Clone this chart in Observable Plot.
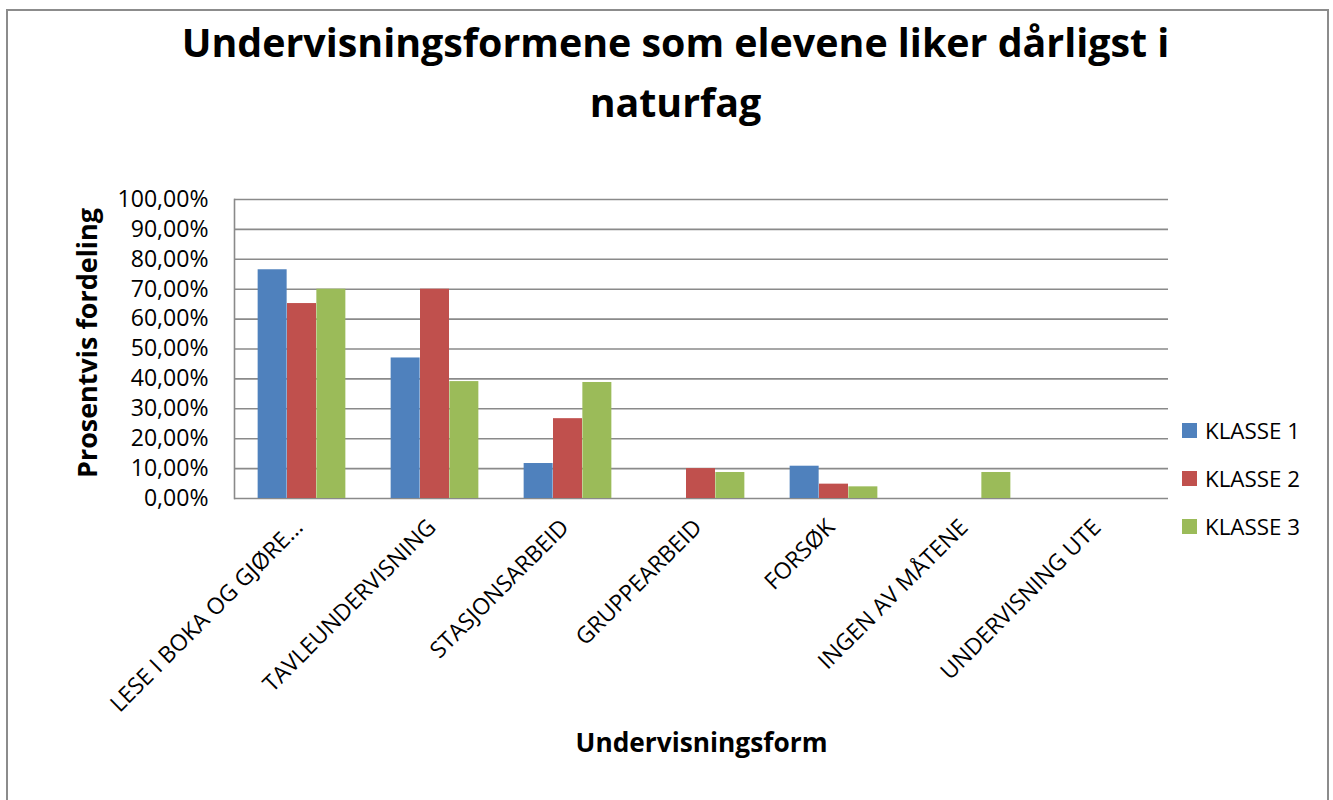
<!DOCTYPE html>
<html>
<head>
<meta charset="utf-8">
<script src="https://cdn.jsdelivr.net/npm/d3@7"></script>
<script src="https://cdn.jsdelivr.net/npm/@observablehq/plot@0.6"></script>
<style>
  html, body { margin: 0; padding: 0; background: #fff; }
  body { width: 1333px; height: 800px; position: relative; overflow: hidden; font-family: "Open Sans", sans-serif; color: #000; }
  #frame { position: absolute; left: 6px; top: 9px; width: 1323px; height: 830px; border: 2px solid #8c8c8c; box-sizing: border-box; }
  #title { position: relative; left: 9px; height: 180px; box-sizing: border-box; padding-top: 12px; text-align: center; font-weight: bold; line-height: 60px; }
  #title div { white-space: nowrap; }
  #chart svg { display: block; }
  #legend { position: absolute; left: 1182px; top: 406px; }
  #legend .row { display: flex; align-items: center; height: 48.3px; white-space: nowrap; }
  #legend .sw { width: 15px; height: 15px; margin-right: 8px; }
</style>
</head>
<body>
<div id="frame"></div>
<div id="title"></div>
<div id="chart"></div>
<div id="legend"></div>
<script>
// ---- data ----
const titleLines = ["Undervisningsformene som elevene liker dårligst i", "naturfag"];
const yTitle = "Prosentvis fordeling";
const xTitle = "Undervisningsform";
const categories = [
  "LESE I BOKA OG GJØRE...",
  "TAVLEUNDERVISNING",
  "STASJONSARBEID",
  "GRUPPEARBEID",
  "FORSØK",
  "INGEN AV MÅTENE",
  "UNDERVISNING UTE"
];
const series = ["KLASSE 1", "KLASSE 2", "KLASSE 3"];
const klasse1 = [0.765, 0.470, 0.117, 0.000, 0.108, 0.000, 0.000];
const klasse2 = [0.652, 0.700, 0.267, 0.100, 0.048, 0.000, 0.000];
const klasse3 = [0.700, 0.391, 0.388, 0.087, 0.039, 0.087, 0.000];
const colors = ["#4F81BD", "#C0504D", "#9BBB59"];
const yTicks = [0, 0.1, 0.2, 0.3, 0.4, 0.5, 0.6, 0.7, 0.8, 0.9, 1.0];

// ---- helpers ----
const ctx = document.createElement("canvas").getContext("2d");
function fit(text, weight, target) {
  ctx.font = `${weight} 100px "Open Sans"`;
  return +(100 * target / ctx.measureText(text).width).toFixed(2);
}
const fsTitle = fit(titleLines[0], "bold", 988);
const fsYTick = fit("100,00%", "normal", 91);
const fsXTick = fit("STASJONSARBEID", "normal", 185);
const fsYTitle = fit(yTitle, "bold", 270);
const fsXTitle = fit(xTitle, "bold", 252);
const fsLegend = fit("KLASSE 1", "normal", 95);

// ---- title ----
const titleEl = document.getElementById("title");
titleEl.style.fontSize = fsTitle + "px";
for (const t of titleLines) {
  const d = document.createElement("div");
  d.textContent = t;
  titleEl.appendChild(d);
}

// ---- table ----
const values = [klasse1, klasse2, klasse3];
const rows = series.flatMap((s, i) => categories.map((c, j) => ({category: c, series: s, value: values[i][j]})));

const W = 1333, H = 620;
const mL = 234, mR = 165, mT = 19, mB = 302;
const pInner = 0.78, pOuter = 0.39;
const step = (W - mL - mR) / (categories.length - pInner + 2 * pOuter);
const bw = step * (1 - pInner);
const fmt = d => d3.format(".2%")(d).replace(".", ",");

const chart = Plot.plot({
  width: W,
  height: H,
  marginLeft: mL,
  marginRight: mR,
  marginTop: mT,
  marginBottom: mB,
  style: {fontFamily: '"Open Sans", sans-serif', color: "#000", background: "transparent"},
  x: {type: "band", domain: categories, paddingInner: pInner, paddingOuter: pOuter, axis: null},
  y: {domain: [0, 1], axis: null},
  color: {domain: series, range: colors},
  marks: [
    Plot.ruleY(yTicks, {stroke: "#8a8a8a", strokeWidth: 1.6, strokeOpacity: 1}),
    Plot.frame({anchor: "left", stroke: "#8a8a8a", strokeWidth: 1.6}),
    ...series.map((s, i) => Plot.barY(rows.filter(d => d.series === s && d.value > 0), {
      x: "category", y: "value", fill: "series", dx: (i - 1) * bw
    })),
    Plot.axisY({ticks: yTicks, tickFormat: fmt, tickSize: 0, tickPadding: 26, fontSize: fsYTick, label: null, fill: "#000"}),
    Plot.axisX({tickRotate: -45, tickSize: 0, tickPadding: 25, fontSize: fsXTick, label: null, fill: "#000", dx: -3}),
    Plot.text([yTitle], {text: d => d, frameAnchor: "left", textAnchor: "middle", rotate: -90, dx: -146, dy: -6, fontWeight: "bold", fontSize: fsYTitle, fill: "#000"}),
    Plot.text([xTitle], {text: d => d, frameAnchor: "bottom", textAnchor: "middle", dy: 253, fontWeight: "bold", fontSize: fsXTitle, fill: "#000"})
  ]
});
document.getElementById("chart").appendChild(chart);

// ---- legend ----
const colorScale = chart.scale("color");
const legendEl = document.getElementById("legend");
colorScale.domain.forEach((s, i) => {
  const row = document.createElement("div");
  row.className = "row";
  row.style.fontSize = fsLegend + "px";
  const sw = document.createElement("div");
  sw.className = "sw";
  sw.style.background = colorScale.range[i];
  const lab = document.createElement("span");
  lab.textContent = s;
  row.appendChild(sw);
  row.appendChild(lab);
  legendEl.appendChild(row);
});
</script>
</body>
</html>
